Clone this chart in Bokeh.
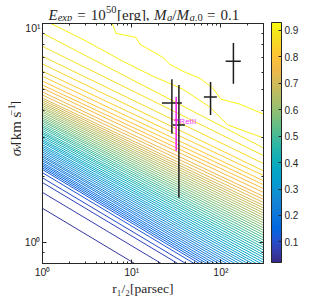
import numpy as np
from bokeh.plotting import figure
from bokeh.layouts import column, row
from bokeh.models import (ColumnDataSource, LinearColorMapper, ColorBar, FixedTicker,
                          LogAxis, Label, Range1d)
from bokeh.core.properties import value
from bokeh.transform import linear_cmap
from bokeh.embed import file_html
from bokeh.resources import INLINE

# ---------------- data ----------------
# contour levels drawn as straight segments: sigma where each level meets r = 1 and r = 300
r_edges = [1, 300]
levels = [0.050, 0.065, 0.080, 0.095, 0.110,
          0.125, 0.140, 0.155, 0.170, 0.185, 0.200, 0.215, 0.230, 0.245, 0.260,
          0.275, 0.290, 0.305, 0.320, 0.335, 0.350, 0.365, 0.380, 0.395, 0.410,
          0.425, 0.440, 0.455, 0.470, 0.485, 0.500, 0.515, 0.530, 0.545, 0.560,
          0.575, 0.590, 0.605, 0.620, 0.635, 0.650, 0.665, 0.680, 0.695, 0.710,
          0.725, 0.740, 0.755, 0.770, 0.785, 0.800, 0.815, 0.830, 0.845, 0.860,
          0.875, 0.890]
sigma_at_r1 = [1.43, 1.69, 1.875, 1.97, 2.08,
               2.15, 2.19, 2.23, 2.27, 2.31, 2.36, 2.40, 2.45, 2.49, 2.54,
               2.59, 2.64, 2.69, 2.74, 2.79, 2.85, 2.90, 2.95, 3.01, 3.07,
               3.13, 3.18, 3.24, 3.31, 3.37, 3.43, 3.50, 3.57, 3.63, 3.70,
               3.77, 3.84, 3.92, 3.99, 4.07, 4.14, 4.22, 4.30, 4.38, 4.47,
               4.56, 4.71, 4.86, 5.06, 5.23, 5.45, 5.74, 6.05, 6.53, 7.08,
               7.86, 9.03]
sigma_at_r300 = [0.355, 0.420, 0.466, 0.491, 0.517,
                 0.534, 0.548, 0.562, 0.577, 0.592, 0.608, 0.624, 0.640, 0.657, 0.674,
                 0.692, 0.711, 0.729, 0.749, 0.768, 0.788, 0.809, 0.831, 0.853, 0.875,
                 0.898, 0.922, 0.946, 0.971, 0.997, 1.023, 1.050, 1.078, 1.106, 1.135,
                 1.165, 1.196, 1.228, 1.260, 1.293, 1.327, 1.362, 1.398, 1.435, 1.473,
                 1.52, 1.57, 1.62, 1.69, 1.76, 1.835, 1.91, 2.02, 2.12, 2.29,
                 2.49, 2.70]

# the two highest (wavy) contour levels
level_a = 0.905
r_a = [1.123, 2.84, 7.97, 17.3, 37.4, 75.1, 119, 298]
s_a = [10.2, 8.46, 6.72, 5.74, 5.01, 4.15, 3.44, 3.0]
level_b = 0.920
r_b = [5.85, 6.65, 11.1, 12.4, 22.4, 26.8, 37.4, 58.0, 81.1, 99.8, 163, 298]
s_b = [10.4, 9.01, 8.64, 8.03, 7.0, 6.51, 6.05, 5.62, 5.06, 4.51, 4.28, 3.86]

# observed dwarfs (black crosses)
r_obs = [28.2, 33.8, 76.5, 138]
r_lo = [21.8, 28.9, 64.4, 113]
r_hi = [36.5, 39.4, 90.0, 167]
s_obs = [4.33, 3.44, 4.61, 6.72]
s_lo = [3.13, 1.60, 3.82, 5.30]
s_hi = [5.56, 5.23, 5.41, 8.14]

# Ret II (magenta)
ret_name = "RetII"
ret_r = [31.5]
ret_r_lo = [29.9]
ret_r_hi = [33.2]
ret_s = [3.62]
ret_s_lo = [2.62]
ret_s_hi = [4.61]

x_major = [1, 10, 100]
x_minor = [2, 3, 4, 5, 6, 7, 8, 9, 20, 30, 40, 50, 60, 70, 80, 90, 200, 300]
y_major = [1, 10]
y_minor = [0.8, 0.9, 2, 3, 4, 5, 6, 7, 8, 9]
tick_text = {1: "10\u2070", 10: "10\u00b9", 100: "10\u00b2"}
x_label = "r\u2081/\u2082[parsec]"
cbar_ticks = [0.1, 0.2, 0.3, 0.4, 0.5, 0.6, 0.7, 0.8, 0.9]
cbar_low, cbar_high = 0.022, 0.93

# parula colormap stops
parula_stops = [
    (0.2081, 0.1663, 0.5292), (0.2081, 0.2386, 0.6771), (0.1253, 0.3242, 0.8303),
    (0.0060, 0.4086, 0.8828), (0.0498, 0.4586, 0.8641), (0.0779, 0.5040, 0.8384),
    (0.0641, 0.5570, 0.8240), (0.0265, 0.6137, 0.8135), (0.0228, 0.6535, 0.7768),
    (0.0590, 0.6838, 0.7254), (0.1453, 0.7098, 0.6646), (0.2586, 0.7317, 0.5954),
    (0.3953, 0.7459, 0.5244), (0.5300, 0.7491, 0.4661), (0.6473, 0.7456, 0.4188),
    (0.7525, 0.7384, 0.3768), (0.8507, 0.7299, 0.3360), (0.9450, 0.7261, 0.2886),
    (0.9990, 0.7653, 0.2164), (0.9789, 0.8271, 0.1633), (0.9589, 0.8949, 0.1132),
    (0.9763, 0.9831, 0.0538)]
st = np.array(parula_stops)
t = np.linspace(0, 1, len(st))
tt = np.linspace(0, 1, 256)
rgb = np.stack([np.interp(tt, t, st[:, k]) for k in range(3)], axis=1)
palette = ["#%02x%02x%02x" % tuple(int(round(c * 255)) for c in rr) for rr in rgb]

INK = "#262626"
SERIF = "Liberation Serif"

# ---------------- main figure ----------------
p = figure(x_axis_type="log", y_axis_type="log",
           x_range=Range1d(1, 300), y_range=Range1d(0.8, 10),
           frame_width=221, frame_height=240,
           min_border_left=18, min_border_right=55, min_border_top=2, min_border_bottom=15,
           output_backend="svg", toolbar_location=None)
p.title.visible = False
p.grid.visible = False
p.outline_line_color = INK
p.outline_line_width = 1
p.background_fill_color = "white"
p.border_fill_color = "white"

xs = [list(r_edges) for _ in levels] + [r_a, r_b]
ys = [[a, b] for a, b in zip(sigma_at_r1, sigma_at_r300)] + [s_a, s_b]
lv = list(levels) + [level_a, level_b]
src = ColumnDataSource(dict(xs=xs, ys=ys, level=lv))
p.multi_line("xs", "ys", source=src, line_width=1.0,
             line_color=linear_cmap("level", palette, cbar_low, cbar_high))

# error bars
p.segment(x0=r_lo, y0=s_obs, x1=r_hi, y1=s_obs, line_color="#1e1e1e", line_width=1.5)
p.segment(x0=r_obs, y0=s_lo, x1=r_obs, y1=s_hi, line_color="#1e1e1e", line_width=1.5)
p.segment(x0=ret_r_lo, y0=ret_s, x1=ret_r_hi, y1=ret_s, line_color="#f21ef2", line_width=1.5)
p.segment(x0=ret_r, y0=ret_s_lo, x1=ret_r, y1=ret_s_hi, line_color="#f21ef2", line_width=1.5)
p.add_layout(Label(x=ret_r_hi[0] * 1.03, y=ret_s[0] * 0.985, text=ret_name, text_font="Liberation Sans",
                   text_font_size="8px", text_color="#f23ef2", text_baseline="middle"))

# axes
xt = FixedTicker(ticks=x_major, minor_ticks=x_minor)
yt = FixedTicker(ticks=y_major, minor_ticks=y_minor)
p.xaxis.ticker = xt
p.yaxis.ticker = yt
for ax in list(p.xaxis) + list(p.yaxis):
    ax.major_label_overrides = tick_text
    ax.major_tick_in = 4
    ax.major_tick_out = 0
    ax.minor_tick_in = 2
    ax.minor_tick_out = 0
    ax.axis_line_color = INK
    ax.major_tick_line_color = INK
    ax.minor_tick_line_color = INK
    ax.major_label_text_font = "Liberation Sans"
    ax.major_label_text_font_size = "10.5px"
    ax.major_label_text_color = INK
    ax.major_label_standoff = 2

# x label (pad with no-break spaces so that it sits left of centre as in the original)
xa = p.xaxis[0]
xa.axis_label = x_label + "\u00a0" * 6
xa.axis_label_text_font = SERIF
xa.axis_label_text_font_size = "13.5px"
xa.axis_label_text_font_style = "normal"
xa.axis_label_text_color = INK
xa.axis_label_standoff = 0

for loc, tk in (("above", xt), ("right", yt)):
    ax = LogAxis(ticker=tk, major_tick_in=4, major_tick_out=0, minor_tick_in=2, minor_tick_out=0,
                 major_label_text_font_size="1px", major_label_text_alpha=0,
                 axis_line_color=INK, major_tick_line_color=INK, minor_tick_line_color=INK,
                 major_label_standoff=0)
    p.add_layout(ax, loc)

# colour bar
mapper = LinearColorMapper(palette=palette, low=cbar_low, high=cbar_high)
cb = ColorBar(color_mapper=mapper, ticker=FixedTicker(ticks=cbar_ticks), orientation="vertical",
              width=10, height=240, location=(228, 0), padding=1,
              bar_line_color=INK, bar_line_width=1,
              major_tick_line_color=INK, major_tick_in=3, major_tick_out=0,
              minor_tick_line_color=None, label_standoff=3,
              major_label_text_font="Liberation Sans", major_label_text_font_size="10px",
              major_label_text_color=INK, background_fill_alpha=0, border_line_color=None)
p.add_layout(cb)


# ---------------- text strips (math-style labels built from pieces) ----------------
def strip(width, height, xr, yr):
    f = figure(width=width, height=height, x_range=xr, y_range=yr,
               x_axis_location=None, y_axis_location=None, min_border=0,
               output_backend="svg", toolbar_location=None)
    f.title.visible = False
    f.grid.visible = False
    f.outline_line_color = None
    f.background_fill_color = "white"
    f.border_fill_color = "white"
    return f


def put(f, x, y, text, size, italic=False, angle=0.0):
    f.text(x=[x], y=[y], text=[text], text_font=value(SERIF), text_font_size=value(f"{size}px"),
           text_font_style="italic" if italic else "normal", text_color=INK,
           text_align="left", text_baseline="alphabetic", angle=angle)


# title strip: window rows 0..21 (y axis flipped so values are pixel rows)
tf = strip(315, 21, Range1d(0, 315), Range1d(21, 0))
T, t_ = 15, 10.5
b0, bs, bp = 14, 16.5, 8.5
put(tf, 48, b0, "E", T, True)
put(tf, 57.2, bs, "exp", t_, True)
put(tf, 76.8, b0, "=", T)
put(tf, 90.3, b0, "10", T)
put(tf, 105.6, bp, "50", t_)
put(tf, 116.5, b0, "[erg],", T)
put(tf, 153.4, b0, "M", T, True)
put(tf, 166.4, bs, "g", t_, True)
put(tf, 171.8, b0, "/", T)
put(tf, 176.0, b0, "M", T, True)
put(tf, 189.0, bs, "g", t_, True)
put(tf, 194.3, bs, ",0", t_)
put(tf, 206.4, b0, "=", T)
put(tf, 219.9, b0, "0.1", T)

# y-label strip: window columns 0..21, rows 21..278 (y value = -row)
yf = strip(21, 257, Range1d(0, 21), Range1d(-278, -21))
A = float(np.pi / 2)
L, l_ = 15, 10.5
put(yf, 15, -176, "\u03c3", L, True, A)
put(yf, 17.1, -168.3, "v", l_, True, A)
put(yf, 15, -163.3, "[km s", L, False, A)
put(yf, 11, -128.5, "\u22121", l_, False, A)
put(yf, 15, -117, "]", L, False, A)

layout = column(tf, row(yf, p, spacing=0), spacing=0)
open("out.html", "w").write(file_html(layout, INLINE))
